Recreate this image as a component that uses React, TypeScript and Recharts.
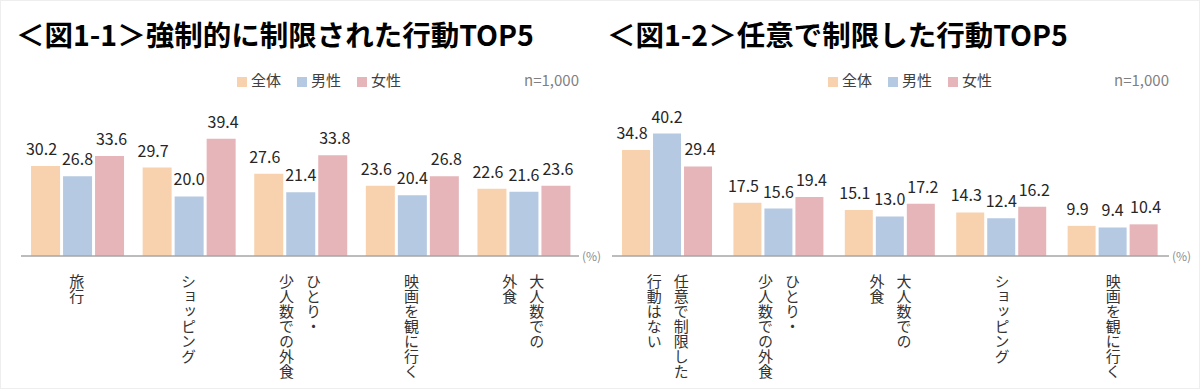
import { BarChart, Bar, XAxis, YAxis, LabelList } from "recharts"

const seriesNames = ["全体", "男性", "女性"]
const seriesColors = ["#f8d2ae", "#b5c9e2", "#e5b5b9"]

const leftCategories = ["旅行", "ショッピング", "ひとり・\n少人数での外食", "映画を観に行く", "大人数での\n外食"]
const leftTotal = [30.2, 29.7, 27.6, 23.6, 22.6]
const leftMale = [26.8, 20.0, 21.4, 20.4, 21.6]
const leftFemale = [33.6, 39.4, 33.8, 26.8, 23.6]

const rightCategories = ["任意で制限した\n行動はない", "ひとり・\n少人数での外食", "大人数での\n外食", "ショッピング", "映画を観に行く"]
const rightTotal = [34.8, 17.5, 15.1, 14.3, 9.9]
const rightMale = [40.2, 15.6, 13.0, 12.4, 9.4]
const rightFemale = [29.4, 19.4, 17.2, 16.2, 10.4]

const FONT = '"Noto Sans CJK JP", "Noto Sans", sans-serif'

const build = (cats: string[], a: number[], b: number[], c: number[]) =>
  cats.map((name, i) => ({ name, s0: a[i], s1: b[i], s2: c[i] }))

const VerticalTick = ({ x, y, payload }: any) => {
  const lines = String(payload.value).split("\n")
  const n = lines.length
  return (
    <g>
      {lines.map((line, i) => (
        <text
          key={i}
          x={x + ((n - 1) / 2 - i) * 27}
          y={y + 18}
          fontSize={15}
          fill="#333"
          fontFamily={FONT}
          style={{ writingMode: "vertical-rl" }}
        >
          {line}
        </text>
      ))}
    </g>
  )
}

const labelShift = [-4, 0, 2]

const makeLabel = (idx: number) => (props: any) => {
  const { x, y, width, value } = props
  return (
    <text
      x={x + width / 2 + labelShift[idx]}
      y={y - 11}
      textAnchor="middle"
      fontSize={16}
      fill="#262626"
      fontFamily={FONT}
    >
      {Number(value).toFixed(1)}
    </text>
  )
}

function Panel({
  left,
  title,
  data,
  margin,
}: {
  left: number
  title: string
  data: any[]
  margin: { top: number; right: number; left: number; bottom: number }
}) {
  const axisEnd = 600 - margin.right
  return (
    <div style={{ position: "absolute", left, top: 0, width: 600, height: 389 }}>
      <div
        style={{
          position: "absolute",
          left: margin.left - 5,
          top: 18,
          fontSize: 28.5,
          lineHeight: "30px",
          fontWeight: 700,
          color: "#000",
          fontFamily: FONT,
          whiteSpace: "nowrap",
        }}
      >
        {title}
      </div>
      <div
        style={{
          position: "absolute",
          left: margin.left + 216,
          top: 69,
          display: "flex",
          fontSize: 15,
          lineHeight: "20px",
          color: "#404040",
          fontFamily: FONT,
        }}
      >
        {seriesNames.map((s, i) => (
          <div key={s} style={{ display: "flex", alignItems: "center", marginRight: 16 }}>
            <span style={{ width: 10, height: 10, background: seriesColors[i], marginRight: 4, marginTop: 3 }} />
            <span>{s}</span>
          </div>
        ))}
      </div>
      <div
        style={{
          position: "absolute",
          right: 600 - axisEnd,
          top: 69,
          fontSize: 15,
          lineHeight: "20px",
          color: "#7f7f7f",
          fontFamily: FONT,
        }}
      >
        n=1,000
      </div>
      <div
        style={{
          position: "absolute",
          left: axisEnd + 3,
          top: 246,
          fontSize: 12,
          lineHeight: "18px",
          color: "#8c8c8c",
          fontFamily: FONT,
        }}
      >
        (%)
      </div>
      <BarChart
        width={600}
        height={389}
        data={data}
        margin={margin}
        barCategoryGap="9%"
        barGap={3}
      >
        <XAxis
          dataKey="name"
          axisLine={{ stroke: "#a6a6a6", strokeWidth: 1.5 }}
          tickLine={false}
          tickSize={0}
          tickMargin={0}
          height={134}
          interval={0}
          tick={<VerticalTick />}
        />
        <YAxis hide domain={[0, 45]} />
        {["s0", "s1", "s2"].map((k, i) => (
          <Bar key={k} dataKey={k} fill={seriesColors[i]} isAnimationActive={false}>
            <LabelList dataKey={k} content={makeLabel(i)} />
          </Bar>
        ))}
      </BarChart>
    </div>
  )
}

export default function App() {
  const leftData = build(leftCategories, leftTotal, leftMale, leftFemale)
  const rightData = build(rightCategories, rightTotal, rightMale, rightFemale)
  return (
    <div
      style={{
        position: "absolute",
        left: 0,
        top: 0,
        width: 1200,
        height: 389,
        background: "#fff",
        boxSizing: "border-box",
        border: "1px solid #eeeeee",
        overflow: "hidden",
      }}
    >
      <Panel
        left={0}
        title="＜図1-1＞強制的に制限された行動TOP5"
        data={leftData}
        margin={{ top: 121, right: 22, left: 20, bottom: 0 }}
      />
      <Panel
        left={600}
        title="＜図1-2＞任意で制限した行動TOP5"
        data={rightData}
        margin={{ top: 118, right: 32, left: 11, bottom: 0 }}
      />
    </div>
  )
}
